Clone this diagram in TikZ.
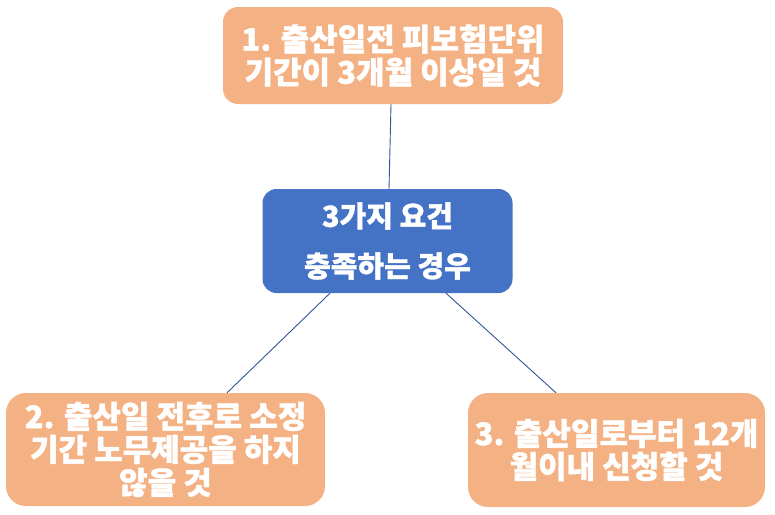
\documentclass[tikz,border=0pt]{standalone}
\usepackage{fontspec}
\setmainfont{Noto Sans CJK KR}[BoldFeatures={FakeBold=1.2}]
\usetikzlibrary{calc}
\definecolor{boxorange}{HTML}{F4B183}
\definecolor{boxblue}{HTML}{4472C4}
\definecolor{linkblue}{HTML}{2F5597}
\tikzset{
  reqbox/.style={rectangle, rounded corners=15pt, fill=boxorange, draw=none,
    text=white, align=center, inner sep=0pt,
    font=\fontsize{31}{33}\selectfont\bfseries},
  hubbox/.style={rectangle, rounded corners=14pt, fill=boxblue, draw=none,
    text=white, align=center, inner sep=0pt,
    font=\fontsize{29}{50}\selectfont\bfseries},
  link/.style={draw=linkblue, line width=0.9pt}
}
\begin{document}
\begin{tikzpicture}[x=1pt,y=-1pt]
\useasboundingbox (0,0) rectangle (775,514);
\node[reqbox, minimum width=340pt, minimum height=97pt] (b1) at (393,55.5)
  {1. 출산일전 피보험단위\\기간이 3개월 이상일 것};
\node[hubbox, minimum width=250pt, minimum height=104pt] (c) at (387.5,241)
  {3가지 요건\\충족하는 경우};
\node[reqbox, rounded corners=20pt, minimum width=319pt, minimum height=113pt] (b2) at (165.5,449.5)
  {2. 출산일 전후로 소정\\기간 노무제공을 하지\\않을 것};
\node[reqbox, rounded corners=20pt, minimum width=297pt, minimum height=114pt] (b3) at (616.5,450)
  {3. 출산일로부터 12개\\월이내 신청할 것};
\coordinate (t1) at ($(b1.south)+(-2,0)$);
\coordinate (t2) at ($(c.north)+(1.5,0)$);
\draw[link] (t1) -- (t2);
\coordinate (l1) at ($(c.south)+(-57.5,0)$);
\coordinate (l2) at ($(b2.north)+(61.5,0)$);
\draw[link] (l1) -- (l2);
\coordinate (r1) at ($(c.south)+(58.5,0)$);
\coordinate (r2) at ($(b3.north)+(-60.5,0)$);
\draw[link] (r1) -- (r2);
\end{tikzpicture}
\end{document}
